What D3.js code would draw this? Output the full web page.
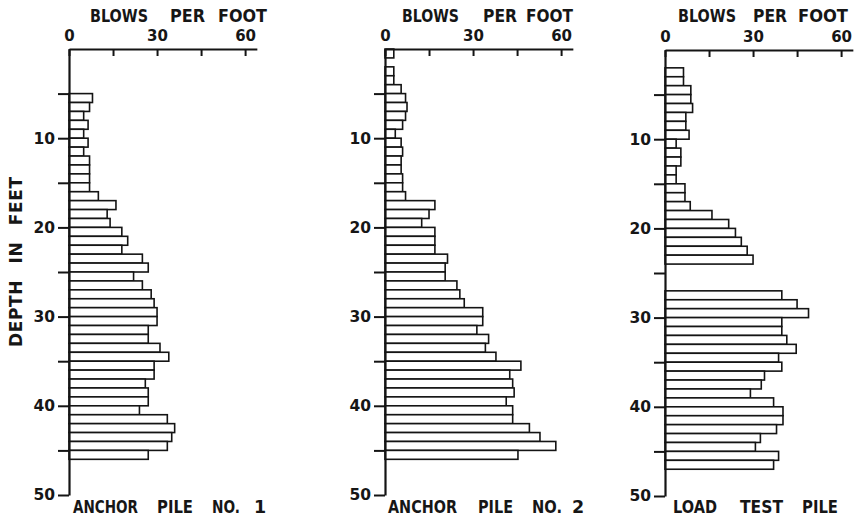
<!DOCTYPE html>
<html>
<head>
<meta charset="utf-8">
<script src="https://cdn.jsdelivr.net/npm/d3@7"></script>
<style>
  html, body { margin: 0; padding: 0; background: #fff; }
  svg { display: block; }
  text { font-family: "DejaVu Sans", "Liberation Sans", sans-serif; font-weight: bold; fill: #161616; }
</style>
</head>
<body>
<svg id="chart" width="858" height="520"></svg>
<script>
// ---- Data (blows per foot at each 1-ft depth interval, starting at depth 0; null = no record) ----
const pileNames = ["ANCHOR PILE NO. 1", "ANCHOR PILE NO. 2", "LOAD TEST PILE"];
const axisTitleX = "BLOWS PER FOOT";
const axisTitleY = "DEPTH IN FEET";
const blowTicks = [0, 15, 30, 45, 60];
const blowTickLabels = ["0", "", "30", "", "60"];
const depthTicks = [5, 10, 15, 20, 25, 30, 35, 40, 45, 50];
const depthTickLabels = ["", "10", "", "20", "", "30", "", "40", "", "50"];

const anchorPile1 = [null, null, null, null, null,
  8, 7, 5, 6.5, 5, 6.5, 5, 7, 7, 7,
  7, 10, 16, 13, 14, 18, 20, 18, 25, 27,
  22, 25, 28, 29, 30, 30, 27, 27, 31, 34,
  29, 29, 26, 27, 27, 24, 33.5, 36, 35, 33.5, 27];

const anchorPile2 = [3, null, 3, 3, 5.5,
  7, 7.5, 7, 6, 3.5, 5.5, 6, 5.5, 5.5, 6,
  6, 7, 17, 15, 12.5, 17, 17, 17, 21.3, 20.5,
  20.5, 24.5, 25.5, 27, 33.3, 33.3, 31.3, 35.3, 34.2, 37.8,
  46.3, 42.5, 43.5, 44, 41.3, 43.5, 43.5, 49.2, 52.8, 58.2, 45.3];

const loadTestPile = [null, null, 6.3, 6.3, 8.8,
  8.8, 9.4, 7.1, 7.1, 8.2, 3.8, 5.4, 5.4, 3.8, 3.8,
  6.8, 6.8, 8.6, 16, 21.7, 24, 26, 28, 30, null,
  null, null, 39.8, 45, 48.9, 39.8, 39.8, 41.5, 44.7, 38.7,
  39.8, 33.9, 32.8, 29.1, 37, 40.2, 40.2, 38, 32.5, 30.8, 38.7, 37];

const allPiles = [anchorPile1, anchorPile2, loadTestPile];

// ---- Layout ----
const svg = d3.select("#chart");
const panelOrigins = [[69, 49], [385, 49], [665, 50]];
// word placement (x offset from panel origin, width) for lettered titles
const titleWordPos = [
  [[21, 58], [101, 35], [149, 49]],
  [[17, 57], [98, 34], [141, 47]],
  [[13, 58], [88, 34], [133, 50]]
];
const labelWordPos = [
  [[4, 65], [88, 36], [143, 28], [185, 0]],
  [[3, 69], [93, 35], [147, 30], [187, 0]],
  [[8, 44], [75, 43], [137, 36]]
];
const pxPerBlow = 2.935;
const x = d3.scaleLinear().domain([0, 64]).range([0, 64 * pxPerBlow]);
const y = d3.scaleLinear().domain([0, 50]).range([0, 446]);
const ink = "#141414";

function letterWords(sel, words, pos) {
  words.forEach((w, k) => {
    if (k > 0) sel.node().appendChild(document.createTextNode(" "));
    const t = sel.append("tspan").attr("x", pos[k][0]).text(w);
    if (pos[k][1] > 0) t.attr("textLength", pos[k][1]).attr("lengthAdjust", "spacingAndGlyphs");
  });
}

allPiles.forEach((vals, i) => {
  const [ox, oy] = panelOrigins[i];
  const g = svg.append("g").attr("transform", `translate(${ox},${oy})`);

  // bars
  const rows = vals.map((v, d) => ({ depth: d, v })).filter(r => r.v !== null);
  g.selectAll("rect.bar").data(rows).enter().append("rect")
    .attr("class", "bar")
    .attr("x", 0)
    .attr("y", r => y(r.depth))
    .attr("width", r => x(r.v))
    .attr("height", y(1) - y(0))
    .attr("fill", "#fff")
    .attr("stroke", ink)
    .attr("stroke-width", 1.6);

  // top axis
  const xa = d3.axisTop(x)
    .tickValues(blowTicks)
    .tickFormat((d, k) => blowTickLabels[k])
    .tickSizeInner(-7)
    .tickSizeOuter(0)
    .tickPadding(8);
  const gx = g.append("g").call(xa);
  gx.select(".domain").attr("stroke", ink).attr("stroke-width", 2.2);
  gx.selectAll(".tick line").attr("stroke", ink).attr("stroke-width", 2);
  gx.selectAll(".tick text").attr("font-size", 15).attr("font-family", null).attr("fill", ink);

  // left axis
  const ya = d3.axisLeft(y)
    .tickValues(depthTicks)
    .tickFormat((d, k) => depthTickLabels[k])
    .tickSizeInner(11)
    .tickSizeOuter(0)
    .tickPadding(3);
  const gy = g.append("g").call(ya);
  gy.select(".domain").attr("stroke", ink).attr("stroke-width", 2.2);
  gy.selectAll(".tick line").attr("stroke", ink).attr("stroke-width", 2);
  gy.selectAll(".tick text").attr("font-size", 15.5).attr("font-family", null).attr("fill", ink);

  // axis title (top)
  const tt = g.append("text")
    .attr("y", 22 - oy)
    .attr("font-size", 17.5);
  letterWords(tt, axisTitleX.split(" "), titleWordPos[i]);

  // panel label (bottom)
  const bl = g.append("text")
    .attr("y", 513 - oy)
    .attr("font-size", 17.5);
  letterWords(bl, pileNames[i].split(" "), labelWordPos[i]);
});

// y axis title
svg.append("text")
  .attr("transform", "translate(22,262) rotate(-90)")
  .attr("text-anchor", "middle")
  .attr("font-size", 17)
  .attr("word-spacing", 10)
  .attr("textLength", 170)
  .attr("lengthAdjust", "spacing")
  .text(axisTitleY);
</script>
</body>
</html>
